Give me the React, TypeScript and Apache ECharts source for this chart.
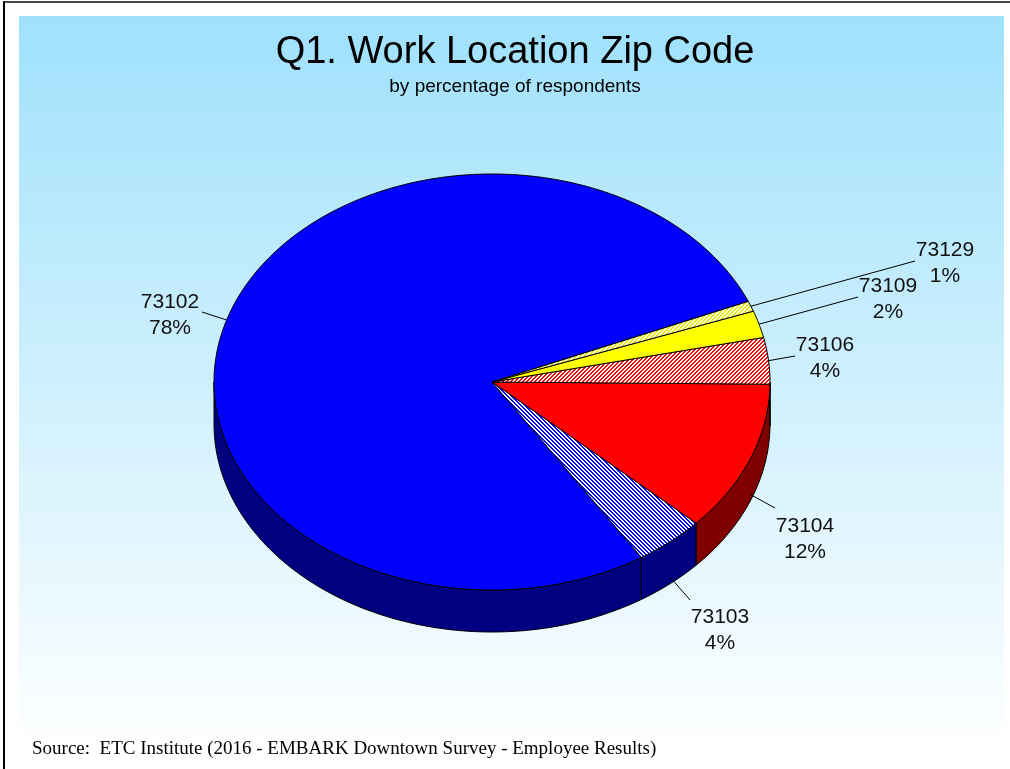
import React, { useEffect, useRef } from 'react';
import * as echarts from 'echarts';

// ---- data ----
const ZIP_CODES = ['73102', '73103', '73104', '73106', '73109', '73129'];
// shares (labels show them rounded)
const VALUES = [77.7, 4.1, 11.7, 3.6, 2.1, 0.8];

// ---- styles ----
const TOP_FILL_KIND = ['solid', 'hatch', 'solid', 'hatch', 'solid', 'hatch'];
const TOP_COLORS = ['#0000FF', '#0000FF', '#FF0000', '#FF0000', '#FFFF00', '#E8E800'];
const HATCH_DIRS = ['/', '\\', '/', '/', '/', '/'];
const SIDE_COLORS = ['#000080', '#000080', '#800000', '#800000', '#808000', '#808000'];

// label layout: [textCenterX, textCenterY, leaderEndX, leaderEndY]
const LABEL_LAYOUT = [
  [170, 313, 202, 312],
  [720, 628, 690, 600],
  [805, 537, 775, 508],
  [825, 356, 795, 356],
  [888, 297, 858, 297],
  [945, 261, 915, 261],
];

// geometry
const CX = 492;
const CY = 382;
const RX = 278;
const RY = 208;
const DEPTH = 42;
const START_ANGLE = 22.8; // degrees, counter-clockwise from 3 o'clock

function hatchImage(color: string, dir: string): string {
  const c = document.createElement('canvas');
  c.width = 4;
  c.height = 4;
  const g = c.getContext('2d')!;
  g.fillStyle = '#ffffff';
  g.fillRect(0, 0, 4, 4);
  g.fillStyle = color;
  for (let i = 0; i < 4; i++) {
    const y = dir === '/' ? 3 - i : i;
    g.fillRect(i, y, 1, 1);
    g.fillRect(i, (y + 1) % 4, 1, 1);
  }
  return c.toDataURL();
}

function pt(deg: number, dy = 0): number[] {
  const r = (deg * Math.PI) / 180;
  return [CX + RX * Math.cos(r), CY - RY * Math.sin(r) + dy];
}

function arcPoints(a: number, b: number, dy = 0): number[][] {
  const pts: number[][] = [];
  const n = Math.max(2, Math.ceil(Math.abs(b - a) / 0.75));
  for (let k = 0; k <= n; k++) pts.push(pt(a + ((b - a) * k) / n, dy));
  return pts;
}

export default function App() {
  const ref = useRef<HTMLDivElement>(null);

  useEffect(() => {
    if (!ref.current) return;
    const chart = echarts.init(ref.current, undefined, { renderer: 'svg', width: 1010, height: 769 });

    const total = VALUES.reduce((s, v) => s + v, 0);
    const cum: number[] = [];
    let acc = 0;
    VALUES.forEach((v) => {
      cum.push(acc);
      acc += v;
    });

    const fills = TOP_FILL_KIND.map((k, i) =>
      k === 'solid'
        ? TOP_COLORS[i]
        : { image: hatchImage(TOP_COLORS[i], HATCH_DIRS[i]), repeat: 'repeat', imageWidth: 4, imageHeight: 4 }
    );

    const renderItem = (params: any, api: any) => {
      const i = params.dataIndex;
      const v = api.value(0);
      const a0 = START_ANGLE + (cum[i] / total) * 360;
      const a1 = a0 + (v / total) * 360;
      const children: any[] = [];

      // visible side wall (lower half of the ellipse)
      const ranges = [
        [180, 360],
        [540, 720],
      ];
      ranges.forEach(([lo, hi]) => {
        const s = Math.max(a0, lo);
        const e = Math.min(a1, hi);
        if (e > s) {
          const top = arcPoints(s, e, 0);
          const bottom = arcPoints(e, s, DEPTH);
          children.push({
            type: 'polygon',
            shape: { points: top.concat(bottom) },
            style: { fill: SIDE_COLORS[i], stroke: '#000', lineWidth: 1, lineJoin: 'round' },
            z2: 1,
          });
        }
      });

      // top face
      const topPts = [[CX, CY]].concat(arcPoints(a0, a1, 0));
      children.push({
        type: 'polygon',
        shape: { points: topPts },
        style: { fill: fills[i], stroke: '#000', lineWidth: 1, lineJoin: 'round' },
        z2: 2,
      });

      // leader line + label
      const mid = (a0 + a1) / 2;
      const below = Math.sin((mid * Math.PI) / 180) < 0;
      const start = pt(mid, below ? DEPTH * 0.85 : 0);
      const lay = LABEL_LAYOUT[i];
      children.push({
        type: 'line',
        shape: { x1: start[0], y1: start[1], x2: lay[2], y2: lay[3] },
        style: { stroke: '#000', lineWidth: 1 },
        z2: 3,
      });
      children.push({
        type: 'text',
        style: {
          text: ZIP_CODES[i] + '\n' + Math.round(v) + '%',
          x: lay[0],
          y: lay[1],
          align: 'center',
          verticalAlign: 'middle',
          fontSize: 21,
          fontFamily: '"Liberation Sans", Arial, sans-serif',
          lineHeight: 26,
          fill: '#111',
        },
        z2: 4,
      });

      return { type: 'group', children };
    };

    chart.setOption({
      animation: false,
      graphic: [
        {
          type: 'rect',
          z: -100,
          shape: { x: 19, y: 16, width: 985, height: 738 },
          style: {
            fill: new echarts.graphic.LinearGradient(0, 0, 0, 1, [
              { offset: 0, color: '#9fe1fc' },
              { offset: 1, color: '#ffffff' },
            ]),
          },
        },
        { type: 'rect', z: -90, shape: { x: 3, y: 1, width: 1007, height: 2 }, style: { fill: '#4a4a4a' } },
        { type: 'rect', z: -90, shape: { x: 3, y: 1, width: 2, height: 768 }, style: { fill: '#000' } },
      ],
      title: [
        {
          text: 'Q1. Work Location Zip Code',
          left: 510,
          top: 26,
          textAlign: 'center',
          textStyle: { fontSize: 38, fontWeight: 'normal', fontFamily: '"Liberation Sans", Arial, sans-serif', color: '#000' },
        },
        {
          text: 'by percentage of respondents',
          left: 510,
          top: 71,
          textAlign: 'center',
          textStyle: { fontSize: 19, fontWeight: 'normal', fontFamily: '"Liberation Sans", Arial, sans-serif', color: '#000' },
        },
        {
          text: 'Source:  ETC Institute (2016 - EMBARK Downtown Survey - Employee Results)',
          left: 27,
          top: 733,
          textStyle: { fontSize: 19, fontWeight: 'normal', fontFamily: '"Liberation Serif", "Times New Roman", serif', color: '#000' },
        },
      ],
      series: [
        {
          type: 'custom',
          coordinateSystem: 'none',
          silent: true,
          z: 2,
          data: VALUES.map((v, i) => ({ name: ZIP_CODES[i], value: [v] })),
          renderItem,
        },
      ],
    });

    return () => chart.dispose();
  }, []);

  return <div ref={ref} style={{ position: 'fixed', left: 0, top: 0, width: 1010, height: 769 }} />;
}
